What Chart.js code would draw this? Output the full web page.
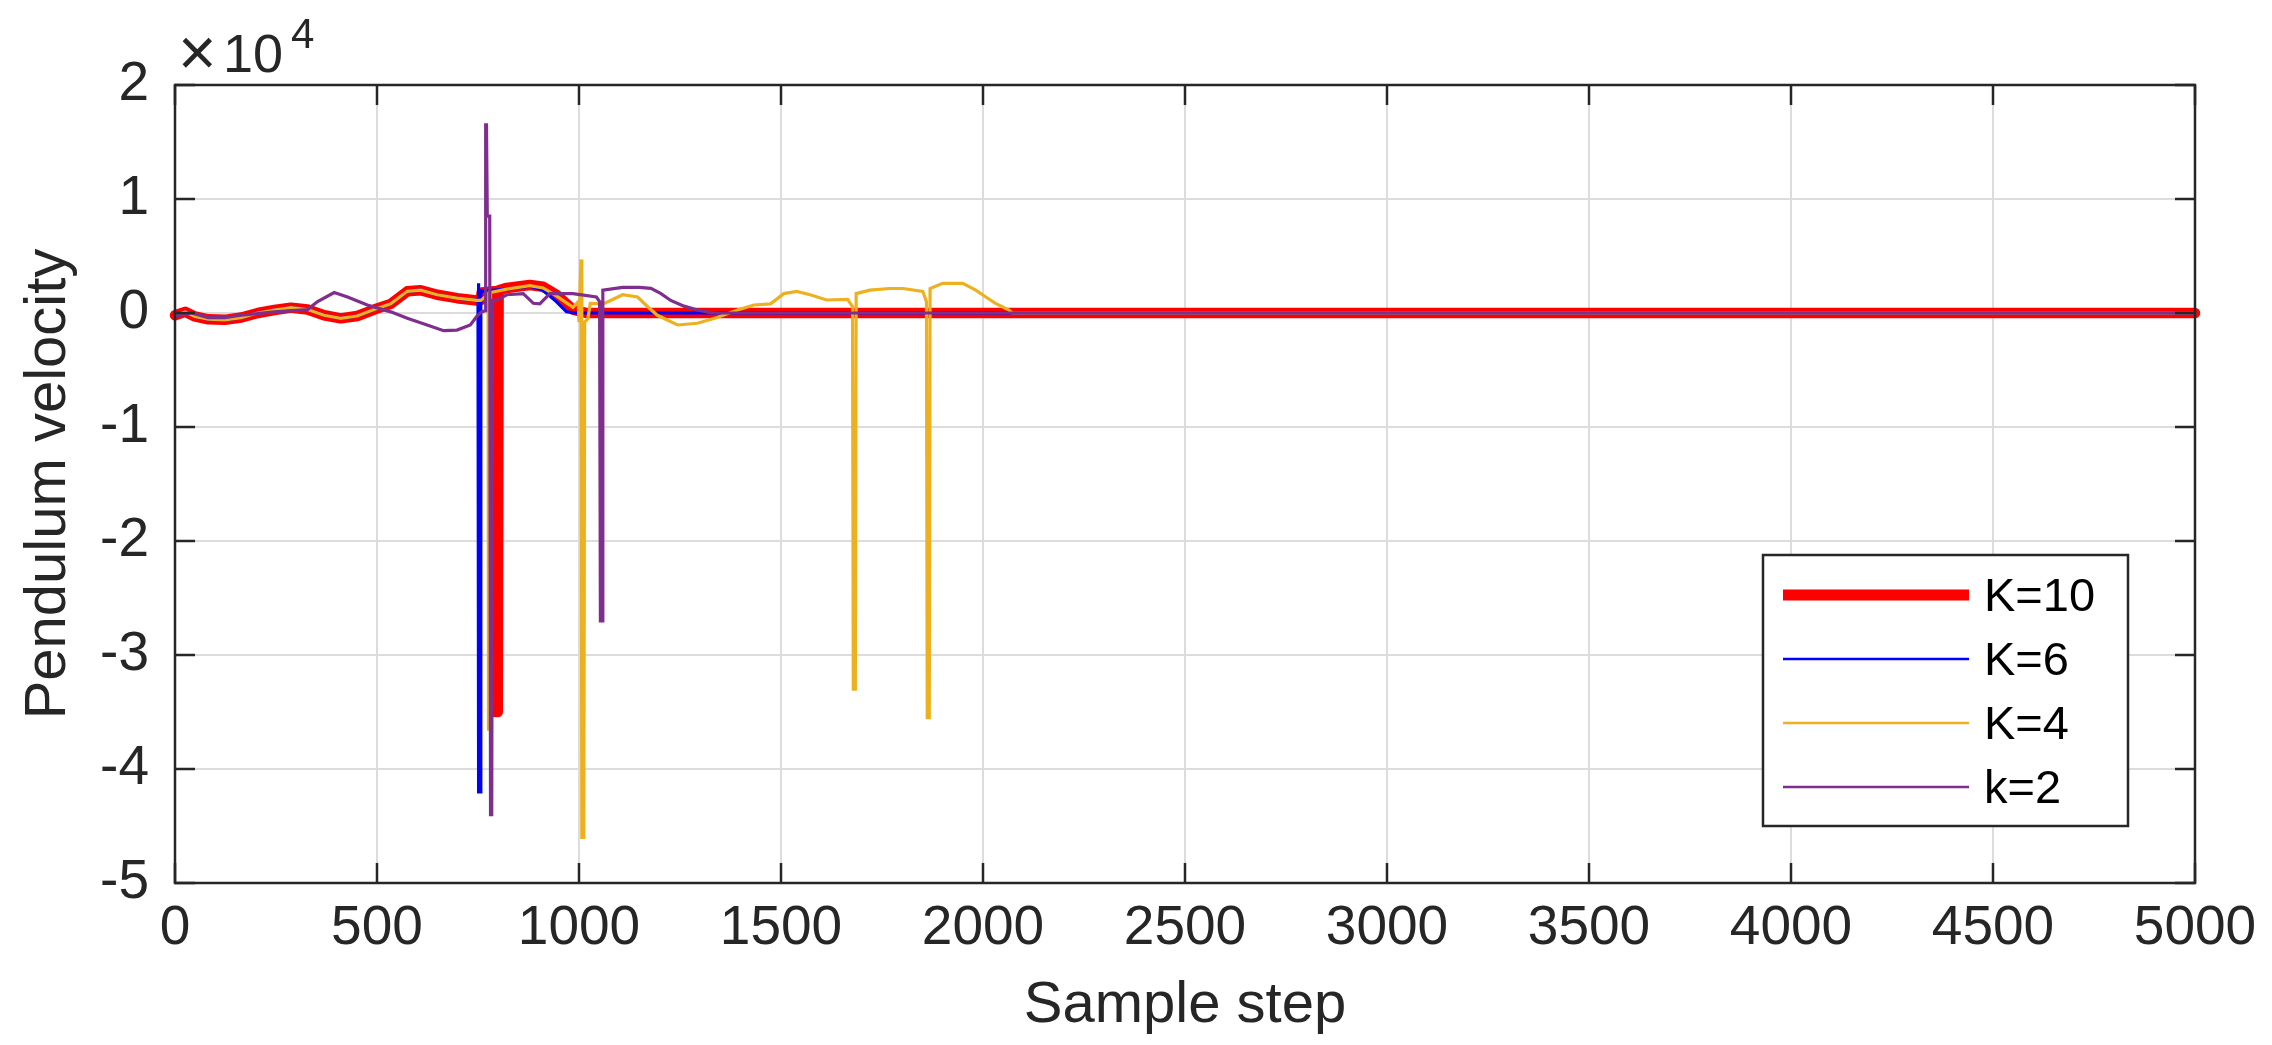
<!DOCTYPE html>
<html>
<head>
<meta charset="utf-8">
<script src="https://cdn.jsdelivr.net/npm/chart.js@4.4.1/dist/chart.umd.min.js"></script>
<style>
  html, body { margin: 0; padding: 0; background: #fff; }
  #wrap { width: 2272px; height: 1045px; }
</style>
</head>
<body>
<div id="wrap"><canvas id="myChart" width="2272" height="1045"></canvas></div>
<script>
// tick values
const xTicks = [0, 500, 1000, 1500, 2000, 2500, 3000, 3500, 4000, 4500, 5000];
const yTicks = [-50000, -40000, -30000, -20000, -10000, 0, 10000, 20000];

// K=10 (red, thick)
const k10Steps = [0, 25, 49, 82, 123, 164, 205, 246, 287, 328, 369, 410, 451, 493, 534, 575, 608, 649, 698, 747, 757, 759, 790, 792, 799, 801, 821, 878, 911, 944, 985, 1018, 5000];
const k10Vel = [-200, 100, -300, -550, -600, -400, 0, 260, 470, 300, -200, -470, -260, 300, 800, 1900, 2000, 1600, 1300, 1100, 1150, 1800, 1900, -35000, -35000, 2000, 2200, 2450, 2300, 1600, 300, 0, 0];

// K=6 (blue)
const k6Steps = [0, 25, 49, 82, 123, 164, 205, 246, 287, 328, 369, 410, 451, 493, 534, 575, 608, 649, 698, 747, 750, 751, 752, 756, 757, 821, 878, 911, 944, 969, 990, 5000];
const k6Vel = [-200, 100, -300, -550, -600, -400, 0, 260, 470, 300, -200, -470, -260, 300, 800, 1900, 2000, 1600, 1300, 1100, 1200, 2600, -42000, -42000, 1900, 2100, 2350, 2000, 1000, 100, 0, 0];

// K=4 (orange)
const k4Steps = [0, 25, 49, 82, 123, 164, 205, 246, 287, 328, 369, 410, 451, 493, 534, 575, 608, 649, 698, 747, 757, 770, 775, 776, 780, 781, 821, 878, 911, 944, 985, 998, 1000, 1005, 1007, 1012, 1014, 1022, 1028, 1060, 1108, 1145, 1170, 1194, 1244, 1293, 1342, 1392, 1433, 1474, 1507, 1539, 1572, 1613, 1665, 1677, 1679, 1684, 1686, 1720, 1769, 1802, 1851, 1860, 1862, 1867, 1869, 1900, 1950, 1982, 2007, 2031, 2064, 2072, 5000];
const k4Vel = [-200, 100, -300, -550, -600, -400, 0, 260, 470, 300, -200, -470, -260, 300, 800, 1900, 2000, 1600, 1300, 1100, 1100, 1500, 1700, -36500, -36500, 1800, 2100, 2400, 2200, 1500, 500, 1000, -800, 4700, -46000, -46000, -800, -500, 850, 800, 1600, 1400, 550, -200, -1050, -900, -400, 260, 700, 800, 1700, 1900, 1600, 1140, 1200, 550, -33000, -33000, 1700, 2000, 2150, 2150, 1900, 1000, -35500, -35500, 2150, 2600, 2600, 2000, 1400, 850, 260, 0, 0];

// k=2 (purple)
const k2Steps = [0, 41, 82, 123, 164, 246, 328, 353, 394, 427, 476, 534, 575, 624, 665, 698, 731, 747, 759, 768, 769, 771, 773, 779, 781, 784, 786, 796, 821, 862, 887, 903, 928, 985, 1043, 1051, 1053, 1057, 1059, 1108, 1149, 1178, 1203, 1227, 1260, 1293, 1326, 1340, 5000];
const k2Vel = [-260, 0, -400, -400, -200, 100, 300, 1000, 1800, 1400, 700, 100, -470, -1050, -1550, -1500, -1050, -300, 100, 200, 16500, 16500, 8500, 8500, -44000, -44000, 1100, 1100, 1600, 1700, 850, 800, 1700, 1700, 1400, 1000, -27000, -27000, 2000, 2250, 2250, 2160, 1700, 1100, 600, 260, 30, 0, 0];

const seriesLabels = ['K=10', 'K=6', 'K=4', 'k=2'];
const seriesColors = ['#FF0000', '#0000FF', '#EDB120', '#7E2F8E'];
const seriesWidths = [10.5, 3.2, 3.2, 3.2];

const FONT = '"Liberation Sans", Arial, Helvetica, sans-serif';
const INK = '#262626';

function toPoints(steps, vals) {
  return steps.map((s, i) => ({ x: s, y: vals[i] }));
}

// box, inward ticks, exponent label and legend, drawn on top
const framePlugin = {
  id: 'frame',
  afterDraw(chart) {
    const { ctx, chartArea: a, scales } = chart;
    const xs = scales.x, ys = scales.y;
    const tl = 20;
    ctx.save();
    ctx.strokeStyle = INK;
    ctx.lineWidth = 2.5;
    ctx.strokeRect(a.left, a.top, a.right - a.left, a.bottom - a.top);
    ctx.beginPath();
    xTicks.forEach(v => {
      const px = xs.getPixelForValue(v);
      ctx.moveTo(px, a.bottom); ctx.lineTo(px, a.bottom - tl);
      ctx.moveTo(px, a.top); ctx.lineTo(px, a.top + tl);
    });
    yTicks.forEach(v => {
      const py = ys.getPixelForValue(v);
      ctx.moveTo(a.left, py); ctx.lineTo(a.left + tl, py);
      ctx.moveTo(a.right, py); ctx.lineTo(a.right - tl, py);
    });
    ctx.stroke();

    // x10^4
    ctx.fillStyle = INK;
    ctx.textBaseline = 'alphabetic';
    ctx.textAlign = 'left';
    ctx.font = '300 66px ' + FONT;
    ctx.fillText('\u00D7', a.left + 3, a.top - 10);
    ctx.font = '54px ' + FONT;
    ctx.fillText('10', a.left + 48, a.top - 13);
    ctx.font = '42px ' + FONT;
    ctx.fillText('4', a.left + 116, a.top - 37);

    // legend
    const bx = a.right - 432, by = a.bottom - 328, bw = 365, bh = 271;
    ctx.fillStyle = '#fff';
    ctx.fillRect(bx, by, bw, bh);
    ctx.lineWidth = 2.5;
    ctx.strokeStyle = INK;
    ctx.strokeRect(bx, by, bw, bh);
    chart.data.datasets.forEach((ds, i) => {
      const ry = by + 40 + i * 64;
      ctx.beginPath();
      ctx.strokeStyle = ds.borderColor;
      ctx.lineWidth = i === 0 ? 11 : 2.5;
      ctx.moveTo(bx + 20, ry); ctx.lineTo(bx + 206, ry);
      ctx.stroke();
      ctx.fillStyle = '#000';
      ctx.font = '47px ' + FONT;
      ctx.textBaseline = 'middle';
      ctx.fillText(ds.label, bx + 221, ry + 3);
    });
    ctx.restore();
  }
};

const datasets = [
  toPoints(k10Steps, k10Vel),
  toPoints(k6Steps, k6Vel),
  toPoints(k4Steps, k4Vel),
  toPoints(k2Steps, k2Vel)
].map((pts, i) => ({
  label: seriesLabels[i],
  data: pts,
  borderColor: seriesColors[i],
  backgroundColor: seriesColors[i],
  borderWidth: seriesWidths[i],
  pointRadius: 0,
  tension: 0,
  fill: false,
  order: 4 - i,
  borderJoinStyle: i === 0 ? 'round' : 'miter',
  borderCapStyle: i === 0 ? 'round' : 'butt',
  clip: false
}));

new Chart(document.getElementById('myChart'), {
  type: 'line',
  data: { datasets },
  plugins: [framePlugin],
  options: {
    responsive: false,
    animation: false,
    devicePixelRatio: 1,
    layout: { padding: { top: 85, right: 77, left: 0, bottom: 0 } },
    plugins: {
      legend: { display: false },
      tooltip: { enabled: false }
    },
    scales: {
      x: {
        type: 'linear',
        min: 0,
        max: 5000,
        afterFit(s) { s.height = 162; },
        afterBuildTicks(s) { s.ticks = xTicks.map(v => ({ value: v })); },
        ticks: {
          color: INK,
          font: { family: FONT, size: 55 },
          padding: 13,
          maxRotation: 0,
          callback: v => String(v)
        },
        grid: { color: '#dcdcdc', lineWidth: 2, drawTicks: false },
        border: { display: false },
        title: {
          display: true,
          text: 'Sample step',
          color: INK,
          font: { family: FONT, size: 58 },
          padding: { top: 0, bottom: 4 }
        }
      },
      y: {
        type: 'linear',
        min: -50000,
        max: 20000,
        afterFit(s) { s.width = 175; },
        afterBuildTicks(s) { s.ticks = yTicks.map(v => ({ value: v })); },
        ticks: {
          color: INK,
          font: { family: FONT, size: 55 },
          padding: 26,
          callback: v => String(v / 10000)
        },
        grid: { color: '#dcdcdc', lineWidth: 2, drawTicks: false },
        border: { display: false },
        title: {
          display: true,
          text: 'Pendulum velocity',
          color: INK,
          font: { family: FONT, size: 58 },
          padding: { top: 14, bottom: 0 }
        }
      }
    }
  }
});
</script>
</body>
</html>
